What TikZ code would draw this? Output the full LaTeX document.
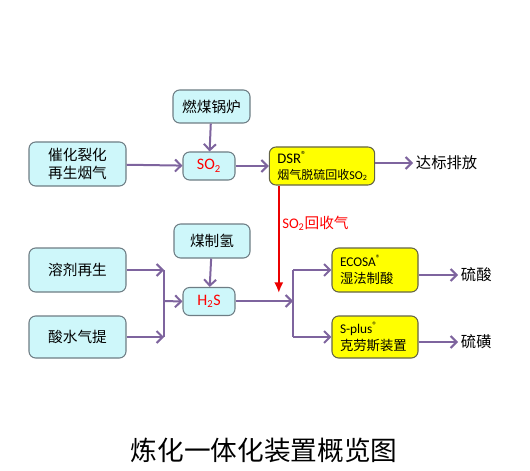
\documentclass[tikz,border=0pt]{standalone}
\usepackage{fontspec}
\setmainfont{Carlito}
\newfontfamily\cjk{Noto Sans CJK SC}
\usepackage{tikz}
\usetikzlibrary{arrows.meta, positioning, calc}

\definecolor{boxcyan}{RGB}{206,247,250}
\definecolor{boxline}{RGB}{110,125,132}
\definecolor{flowpurple}{RGB}{126,100,158}
\definecolor{boxyellow}{RGB}{255,255,0}
\definecolor{yellowline}{RGB}{100,100,70}

\begin{document}
\begin{tikzpicture}[x=0.75pt, y=-0.75pt,
    srcbox/.style={draw=boxline, fill=boxcyan, rounded corners=5pt, line width=0.8pt,
        align=center, font=\cjk\fontsize{11}{13.5}\selectfont, inner sep=1pt},
    gasbox/.style={srcbox, minimum width=39pt, minimum height=21pt, text=red,
        font=\fontsize{12}{14}\selectfont},
    unitbox/.style={draw=yellowline, fill=boxyellow, rounded corners=5pt, line width=0.8pt,
        align=left, inner xsep=6pt, inner ysep=1pt, font=\fontsize{10}{12.5}\selectfont},
    outtext/.style={font=\cjk\fontsize{11.5}{13}\selectfont, inner sep=2pt},
    flow/.style={draw=flowpurple, line width=1.5pt, -{Straight Barb[length=4.5pt, width=9pt]}},
    plain/.style={draw=flowpurple, line width=1.5pt},
    redflow/.style={draw=red!92!black, line width=1.6pt, -{Latex[length=8pt, width=7pt]}}
]
\useasboundingbox (0,0) rectangle (530,470);

% sources of SO2
\node[srcbox, minimum width=57.75pt, minimum height=24.75pt] (boiler) at (211.5,106.5) {燃煤锅炉};
\node[srcbox, minimum width=72.75pt, minimum height=33pt] (fcc) at (77.5,164) {催化裂化\\再生烟气};
\node[gasbox] (so2) at (209,166) {SO\textsubscript{2}};
\node[unitbox, text width=67pt, minimum height=28.5pt] (dsr) at (322,166)
    {\fontsize{11}{12.5}\selectfont DSR\textsuperscript{®}\\[-1pt]{\cjk\fontsize{9}{11}\selectfont 烟气脱硫回收}\fontsize{9}{11}\selectfont SO\textsubscript{2}};
\node[outtext, anchor=west] (emit) at (413,163) {达标排放};

% sources of H2S
\node[srcbox, minimum width=57pt, minimum height=25.5pt] (coalh2) at (212,241) {煤制氢};
\node[srcbox, minimum width=72.75pt, minimum height=33pt] (solvent) at (77.5,270) {溶剂再生};
\node[srcbox, minimum width=72.75pt, minimum height=31.5pt] (sourwater) at (77.5,337) {酸水气提};
\node[gasbox] (h2s) at (209,301.5) {H\textsubscript{2}S};

% sulfur units
\node[unitbox, text width=52.5pt, minimum height=33pt] (ecosa) at (375,270)
    {ECOSA\textsuperscript{®}\\{\cjk 湿法制酸}};
\node[unitbox, text width=52.5pt, minimum height=31.5pt] (splus) at (375,337)
    {S-plus\textsuperscript{®}\\{\cjk 克劳斯装置}};
\node[outtext, anchor=west] (acid) at (458,275) {硫酸};
\node[outtext, anchor=west] (sulfur) at (458,342) {硫磺};

\coordinate (jl) at (164,301);
\coordinate (jr) at (293,301);

% SO2 line
\draw[flow] (boiler) -- (so2);
\draw[flow] (fcc) -- (so2);
\draw[flow] (so2) -- (dsr);
\draw[flow] (dsr.east |- emit) -- (emit);

% H2S line
\draw[flow] (coalh2) -- (h2s);
\draw[flow] (solvent.east) -- (solvent.east -| jl);
\draw[flow] (sourwater.east) -- (sourwater.east -| jl);
\draw[plain] (solvent.east -| jl) -- (sourwater.east -| jl);
\draw[flow] (jl) -- (h2s.west);
\draw[flow] (h2s.east |- jl) -- (jr);
\draw[plain] (jr |- ecosa.west) -- (jr |- splus.west);
\draw[flow] (jr |- ecosa.west) -- (ecosa.west);
\draw[flow] (jr |- splus.west) -- (splus.west);
\draw[flow] (ecosa.east |- acid) -- (acid);
\draw[flow] (splus.east |- sulfur) -- (sulfur);

% recovered SO2
\coordinate (rtop) at ($(dsr.south west)+(10,0)$);
\draw[redflow, shorten >=6pt] (rtop) -- (rtop |- jr);
\node[anchor=west, text=red, inner sep=0pt, font=\fontsize{11}{13}\selectfont] (recov) at (282,223)
    {SO\textsubscript{2}{\cjk 回收气}};

% title
\node[font=\cjk\fontsize{20}{24}\selectfont] (title) at (264,450) {炼化一体化装置概览图};
\end{tikzpicture}
\end{document}
